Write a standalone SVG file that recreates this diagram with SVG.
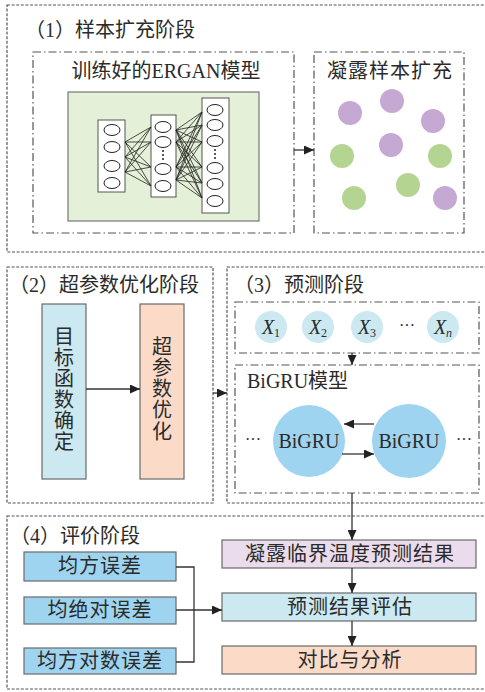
<svg xmlns="http://www.w3.org/2000/svg" width="485" height="692" viewBox="0 0 485 692">
<style>
  text { font-family: "Liberation Serif", "Noto Sans CJK SC", serif; fill: #2b2b2b; }
  .t20 { font-size: 20px; }
  .mid { text-anchor: middle; }
  .outer { fill: none; stroke: #555; stroke-width: 1.2; stroke-dasharray: 3 1.6; }
  .dd { fill: none; stroke: #555; stroke-width: 1.2; stroke-dasharray: 8 3 1.5 3; }
  .box { stroke: #6a6a6a; stroke-width: 1.2; }
  .conn { fill: none; stroke: #333; stroke-width: 1.3; }
  .nn { fill: none; stroke: #222; stroke-width: 0.8; }
  .col { fill: #fff; stroke: #555; stroke-width: 1; }
  .neu { fill: #fff; stroke: #222; stroke-width: 1; }
  .pur { fill: #c5a9d3; }
  .grn { fill: #b4d492; }
  .xc { fill: #cce9f1; }
  .bg { fill: #9fd4f0; }
</style>
<defs>
  <marker id="arr" markerUnits="userSpaceOnUse" markerWidth="11" markerHeight="9" refX="10" refY="4.5" orient="auto">
    <path d="M0,0 L10,4.5 L0,9 z" fill="#222"/>
  </marker>
</defs>
<rect width="485" height="692" fill="#fff"/>

<!-- Stage 1 -->
<g id="stage1">
  <rect class="outer" x="7" y="5" width="490" height="247"/>
  <text class="t20" x="25" y="37">（1）样本扩充阶段</text>
</g>
<g id="ergan">
  <rect class="dd" x="33" y="52" width="261" height="181"/>
  <text class="t20 mid" x="166" y="78">训练好的ERGAN模型</text>
  <rect x="68" y="92" width="191" height="129" fill="#e4f0d7" stroke="#777" stroke-width="1.2"/>
  <rect class="col" x="98" y="120" width="27" height="72"/>
  <rect class="col" x="151" y="115" width="25" height="82"/>
  <rect class="col" x="202" y="98" width="27" height="115"/>
  <g class="nn">
    <path d="M125,142 L151,127 M125,142 L151,142 M125,142 L151,167 M125,142 L151,186
             M125,157 L151,127 M125,157 L151,142 M125,157 L151,167 M125,157 L151,186
             M125,172 L151,127 M125,172 L151,142 M125,172 L151,167 M125,172 L151,186"/>
    <path d="M176,130 L202,112 M176,130 L202,125 M176,130 L202,142 M176,130 L202,167 M176,130 L202,183 M176,130 L202,198
             M176,142 L202,112 M176,142 L202,125 M176,142 L202,142 M176,142 L202,167 M176,142 L202,183 M176,142 L202,198
             M176,167 L202,112 M176,167 L202,125 M176,167 L202,142 M176,167 L202,167 M176,167 L202,183 M176,167 L202,198
             M176,180 L202,112 M176,180 L202,125 M176,180 L202,142 M176,180 L202,167 M176,180 L202,183 M176,180 L202,198"/>
  </g>
  <g>
    <ellipse class="neu" cx="112" cy="130" rx="8" ry="5.5"/>
    <ellipse class="neu" cx="112" cy="147" rx="8" ry="5.5"/>
    <ellipse class="neu" cx="112" cy="166" rx="8" ry="5.5"/>
    <ellipse class="neu" cx="112" cy="183" rx="8" ry="5.5"/>
    <ellipse class="neu" cx="163" cy="127" rx="8" ry="5.5"/>
    <ellipse class="neu" cx="163" cy="142" rx="8" ry="5.5"/>
    <ellipse class="neu" cx="163" cy="169" rx="8" ry="5.5"/>
    <ellipse class="neu" cx="163" cy="186" rx="8" ry="5.5"/>
    <path d="M163,150 v2 M163,154 v2 M163,158 v2" stroke="#222" stroke-width="1.5"/>
    <ellipse class="neu" cx="215" cy="110" rx="8" ry="5.5"/>
    <ellipse class="neu" cx="215" cy="125" rx="8" ry="5.5"/>
    <ellipse class="neu" cx="215" cy="141" rx="8" ry="5.5"/>
    <ellipse class="neu" cx="215" cy="168" rx="8" ry="5.5"/>
    <ellipse class="neu" cx="215" cy="184" rx="8" ry="5.5"/>
    <ellipse class="neu" cx="215" cy="201" rx="8" ry="5.5"/>
    <path d="M215,149 v2 M215,153 v2 M215,157 v2" stroke="#222" stroke-width="1.5"/>
  </g>
</g>
<g id="samples">
  <rect class="dd" x="314" y="52" width="150" height="181"/>
  <text class="t20" x="327" y="78" letter-spacing="1">凝露样本扩充</text>
  <circle class="pur" cx="350" cy="113" r="12"/>
  <circle class="pur" cx="392" cy="101" r="12"/>
  <circle class="pur" cx="433" cy="121" r="12"/>
  <circle class="pur" cx="391" cy="145" r="12"/>
  <circle class="pur" cx="445" cy="198" r="12"/>
  <circle class="grn" cx="342" cy="156" r="12"/>
  <circle class="grn" cx="440" cy="156" r="12"/>
  <circle class="grn" cx="408" cy="185" r="12"/>
  <circle class="grn" cx="354" cy="198" r="12"/>
</g>

<!-- Stage 2 -->
<g id="stage2">
  <rect class="outer" x="7" y="267" width="206" height="236"/>
  <text class="t20" x="9" y="292">（2）超参数优化阶段</text>
</g>
<g id="objective">
  <rect class="box" x="42" y="304" width="44" height="175" fill="#cce9f1"/>
  <text class="t20 mid">
    <tspan x="64" y="344">目</tspan><tspan x="64" y="365">标</tspan><tspan x="64" y="386">函</tspan><tspan x="64" y="407">数</tspan><tspan x="64" y="428">确</tspan><tspan x="64" y="449">定</tspan>
  </text>
</g>
<g id="hpo">
  <rect class="box" x="140" y="304" width="44" height="175" fill="#fbdbc8"/>
  <text class="t20 mid">
    <tspan x="162" y="354">超</tspan><tspan x="162" y="375">参</tspan><tspan x="162" y="396">数</tspan><tspan x="162" y="417">优</tspan><tspan x="162" y="439">化</tspan>
  </text>
</g>

<!-- Stage 3 -->
<g id="stage3">
  <rect class="outer" x="227" y="267" width="270" height="236"/>
  <text class="t20" x="234" y="292">（3）预测阶段</text>
</g>
<g id="inputs">
  <rect class="dd" x="235" y="302" width="244" height="51"/>
  <circle class="xc" cx="271" cy="327" r="16"/>
  <circle class="xc" cx="318" cy="327" r="16"/>
  <circle class="xc" cx="367" cy="327" r="16"/>
  <circle class="xc" cx="443" cy="327" r="16"/>
  <text class="mid" x="271" y="334" font-size="20"><tspan font-style="italic">X</tspan><tspan font-size="12" dy="3">1</tspan></text>
  <text class="mid" x="318" y="334" font-size="20"><tspan font-style="italic">X</tspan><tspan font-size="12" dy="3">2</tspan></text>
  <text class="mid" x="367" y="334" font-size="20"><tspan font-style="italic">X</tspan><tspan font-size="12" dy="3">3</tspan></text>
  <text class="mid" x="407" y="331" font-size="16">···</text>
  <text class="mid" x="443" y="334" font-size="20"><tspan font-style="italic">X</tspan><tspan font-size="12" font-style="italic" dy="3">n</tspan></text>
</g>
<g id="bigru-model">
  <rect class="dd" x="235" y="365" width="244" height="128"/>
  <text class="t20" x="247" y="388">BiGRU模型</text>
  <circle class="bg" cx="309" cy="441" r="36"/>
  <circle class="bg" cx="409" cy="441" r="37"/>
  <text class="t20 mid" x="309" y="448">BiGRU</text>
  <text class="t20 mid" x="409" y="448">BiGRU</text>
  <text class="mid" x="253" y="445" font-size="16">···</text>
  <text class="mid" x="464" y="445" font-size="16">···</text>
</g>

<!-- Stage 4 -->
<g id="stage4">
  <rect class="outer" x="7" y="516" width="490" height="173"/>
  <text class="t20" x="10" y="543">（4）评价阶段</text>
</g>
<g id="mse">
  <rect class="box" x="24" y="552" width="152" height="29" fill="#9fd4f0"/>
  <text class="t20 mid" x="100" y="573" letter-spacing="1">均方误差</text>
</g>
<g id="mae">
  <rect class="box" x="24" y="597" width="152" height="27" fill="#9fd4f0"/>
  <text class="t20 mid" x="100" y="617" letter-spacing="1">均绝对误差</text>
</g>
<g id="msle">
  <rect class="box" x="24" y="648" width="152" height="26" fill="#9fd4f0"/>
  <text class="t20 mid" x="100" y="668" letter-spacing="1">均方对数误差</text>
</g>
<g id="result">
  <rect class="box" x="222" y="540" width="254" height="28" fill="#eadcec"/>
  <text class="t20 mid" x="350" y="561" letter-spacing="1">凝露临界温度预测结果</text>
</g>
<g id="evaluate">
  <rect class="box" x="222" y="593" width="254" height="28" fill="#cce9f1"/>
  <text class="t20 mid" x="350" y="614" letter-spacing="1">预测结果评估</text>
</g>
<g id="compare">
  <rect class="box" x="222" y="646" width="254" height="28" fill="#fbdbc8"/>
  <text class="t20 mid" x="350" y="667" letter-spacing="1">对比与分析</text>
</g>

<!-- Connectors -->
<g id="connectors" class="conn">
  <line x1="294" y1="150" x2="314" y2="150" marker-end="url(#arr)"/>
  <line x1="86" y1="389" x2="140" y2="389" marker-end="url(#arr)"/>
  <line x1="213" y1="393" x2="227" y2="393" marker-end="url(#arr)"/>
  <line x1="352" y1="353" x2="352" y2="365" marker-end="url(#arr)"/>
  <line x1="374" y1="424" x2="344" y2="424" marker-end="url(#arr)"/>
  <line x1="342" y1="454" x2="374" y2="454" marker-end="url(#arr)"/>
  <line x1="352" y1="493" x2="352" y2="540" marker-end="url(#arr)"/>
  <line x1="352" y1="568" x2="352" y2="593" marker-end="url(#arr)"/>
  <line x1="352" y1="621" x2="352" y2="646" marker-end="url(#arr)"/>
  <polyline points="176,567 194,567 194,662 176,662"/>
  <line x1="176" y1="610" x2="222" y2="610" marker-end="url(#arr)"/>
</g>
</svg>
